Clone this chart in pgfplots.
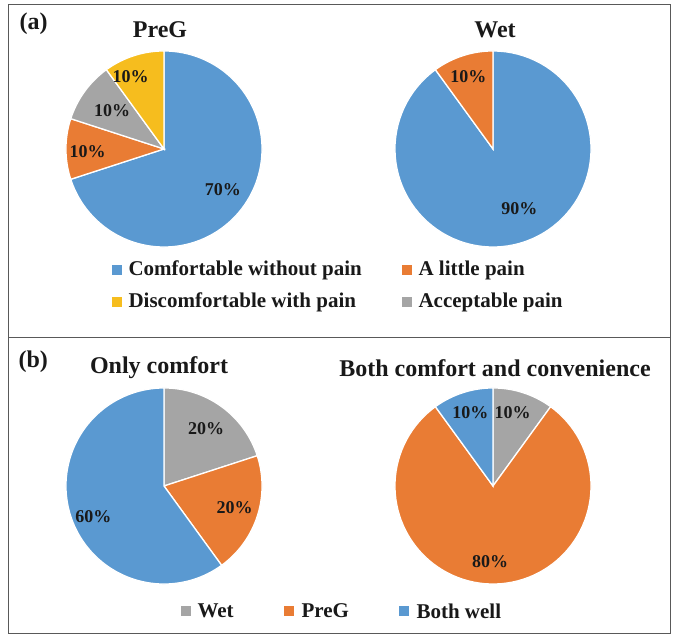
\documentclass[border=0pt]{standalone}
\usepackage{pgfplots}
\pgfplotsset{compat=1.18}
\usepackage{fontspec}
\setmainfont{Liberation Serif}
\definecolor{cblue}{HTML}{5A99D1}
\definecolor{corange}{HTML}{E97C34}
\definecolor{cgray}{HTML}{A5A5A5}
\definecolor{cyellow}{HTML}{F6BD1E}
% slice from cumulative start % (#1) to cumulative end % (#2), clockwise from 12 o'clock
\newcommand{\slice}[3]{%
  \addplot[fill=#3, draw=white, line width=1.3pt, domain={90-3.6*#2}:{90-3.6*#1}, samples=90, variable=\t]
    ({cos(t)},{sin(t)}) -- (axis cs:0,0) -- cycle;}
\pgfplotsset{pie/.style={scale only axis, width=200pt, height=200pt,
  xmin=-1.02, xmax=1.02, ymin=-1.02, ymax=1.02, hide axis, anchor=center, clip=false}}
\tikzset{pct/.style={font=\fontsize{18}{18}\selectfont\bfseries, text=black!90}}
\begin{document}
\begin{tikzpicture}[x=1pt,y=1pt]
\path (0,0) rectangle (675,635);
\draw[black!65, line width=0.9pt] (8,2) rectangle (670,631);
\draw[black!65, line width=0.9pt] (8,298) -- (670,298);
\tikzset{ttl/.style={font=\fontsize{24}{24}\selectfont\bfseries, text=black!90}}
\tikzset{lg/.style={font=\fontsize{21}{21}\selectfont\bfseries, text=black!90, anchor=west}}
\node[ttl, anchor=west, font=\fontsize{24}{24}\selectfont\bfseries] at (16,611) {(a)};
\node[ttl] at (160,605) {PreG};
\node[ttl] at (495,605) {Wet};
\node[ttl, anchor=west, font=\fontsize{24}{24}\selectfont\bfseries] at (15,273) {(b)};
\node[ttl] at (159,267) {Only comfort};
\node[ttl] at (495,267) {Both comfort and convenience};
% panel (a) PreG: Comfortable 70, A little pain 10, Acceptable 10, Discomfortable 10
\begin{axis}[pie, at={(164pt,486pt)}]
\slice{0}{70}{cblue}
\slice{70}{80}{corange}
\slice{80}{90}{cgray}
\slice{90}{100}{cyellow}
\node[pct] at (axis cs:0.60,-0.41) {70\%};
\node[pct] at (axis cs:-0.78,-0.03) {10\%};
\node[pct] at (axis cs:-0.53,0.39) {10\%};
\node[pct] at (axis cs:-0.34,0.74) {10\%};
\end{axis}
% Wet: Comfortable 90, A little pain 10
\begin{axis}[pie, at={(493pt,486pt)}]
\slice{0}{90}{cblue}
\slice{90}{100}{corange}
\node[pct] at (axis cs:0.27,-0.61) {90\%};
\node[pct] at (axis cs:-0.25,0.74) {10\%};
\end{axis}
% Only comfort: Wet 20, PreG 20, Both well 60
\begin{axis}[pie, at={(164pt,149pt)}]
\slice{0}{20}{cgray}
\slice{20}{40}{corange}
\slice{40}{100}{cblue}
\node[pct] at (axis cs:0.43,0.59) {20\%};
\node[pct] at (axis cs:0.72,-0.22) {20\%};
\node[pct] at (axis cs:-0.72,-0.31) {60\%};
\end{axis}
% Both comfort and convenience: Wet 10, PreG 80, Both well 10
\begin{axis}[pie, at={(493pt,149pt)}]
\slice{0}{10}{cgray}
\slice{10}{90}{corange}
\slice{90}{100}{cblue}
\node[pct] at (axis cs:0.20,0.75) {10\%};
\node[pct] at (axis cs:-0.23,0.75) {10\%};
\node[pct] at (axis cs:-0.03,-0.77) {80\%};
\end{axis}
% legends
\fill[cblue] (112,360) rectangle (122,370); \node[lg] at (125,365) {Comfortable without pain};
\fill[corange] (402,360) rectangle (412,370); \node[lg] at (415,365) {A little pain};
\fill[cyellow] (112,328) rectangle (122,338); \node[lg] at (125,333) {Discomfortable with pain};
\fill[cgray] (402,328) rectangle (412,338); \node[lg] at (415,333) {Acceptable pain};
\fill[cgray] (181,19) rectangle (191,29); \node[lg] at (194,24) {Wet};
\fill[corange] (284,19) rectangle (294,29); \node[lg] at (298,24) {PreG};
\fill[cblue] (399,19) rectangle (409,29); \node[lg] at (413,24) {Both well};
\end{tikzpicture}
\end{document}
